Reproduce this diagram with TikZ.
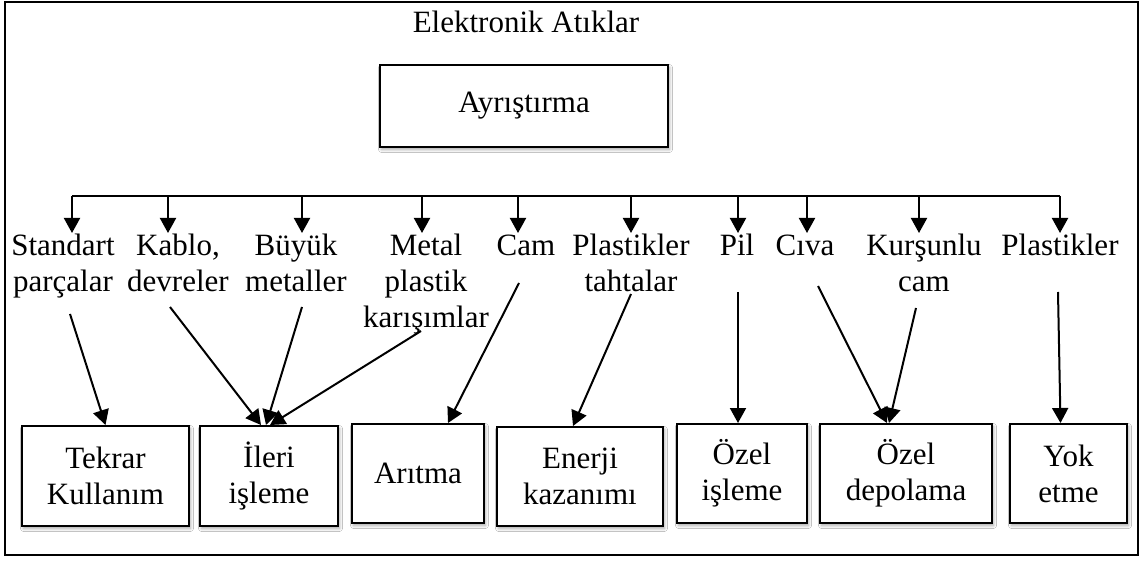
\documentclass[tikz,border=0pt]{standalone}
\usepackage{fontspec}
\setmainfont{Liberation Serif}
\usetikzlibrary{arrows.meta,calc,shadows.blur}

% stacked lines whose baseline is that of the first line
\newcommand{\stacklines}[1]{\begin{tabular}[t]{@{}c@{}}#1\end{tabular}}

\begin{document}
\begin{tikzpicture}[x=1pt,y=-1pt,
  every node/.style={font=\fontsize{31}{36}\selectfont, inner sep=0pt},
  lbl/.style={anchor=base},
  box/.style={draw, line width=2pt, fill=white, align=center,
    blur shadow={shadow xshift=1.5pt, shadow yshift=-2.5pt,
                 shadow blur radius=3pt, shadow opacity=35}},
  arr/.style={line width=2pt, -{Triangle[length=15pt,width=16pt]}},
  line/.style={line width=2pt}]

% page and outer frame
\useasboundingbox (0,0) rectangle (1141,561);
\fill[white] (0,0) rectangle (1141,561);
\draw[line] (5,2) rectangle (1138,555);

% title and sorting step
\node[anchor=base] (title) at (526,33) {Elektronik Atıklar};
\node[box, minimum width=288pt, minimum height=82pt] (ayr) at (524,106) {Ayrıştırma};

% component categories
\node[lbl] (l1)  at (63,256)   {\stacklines{Standart\\parçalar}};
\node[lbl] (l2)  at (178,256)  {\stacklines{Kablo,\\devreler}};
\node[lbl] (l3)  at (296,256)  {\stacklines{Büyük\\metaller}};
\node[lbl] (l4)  at (426,256)  {\stacklines{Metal\\plastik\\karışımlar}};
\node[lbl] (l5)  at (526,256)  {Cam};
\node[lbl] (l6)  at (631,256)  {\stacklines{Plastikler\\tahtalar}};
\node[lbl] (l7)  at (737,256)  {Pil};
\node[lbl] (l8)  at (805,256)  {Cıva};
\node[lbl] (l9)  at (924,256)  {\stacklines{Kurşunlu\\cam}};
\node[lbl] (l10) at (1060,256) {Plastikler};

% distribution bus with drops
\coordinate (bL) at (72,196);
\coordinate (bR) at (1060,196);
\draw[line] (bL) -- (bR);
\foreach \x [count=\i] in {72,168,302,422,518,631,738,807,919,1060} {
  \coordinate (d\i) at (\x,196);
  \coordinate (t\i) at (\x,233);
  \draw[arr] (d\i) -- (t\i);
}

% treatment methods
\node[box, minimum width=167pt, minimum height=100pt] (tek)    at (105.5,476) {Tekrar\\Kullanım};
\node[box, minimum width=138pt, minimum height=100pt] (ileri)  at (269,476)   {İleri\\işleme};
\node[box, minimum width=132pt, minimum height=99pt]  (arit)   at (418,473.5) {Arıtma};
\node[box, minimum width=166pt, minimum height=99pt]  (enerji) at (580,476.5) {Enerji\\kazanımı};
\node[box, minimum width=130pt, minimum height=99pt]  (ozisl)  at (742,473.5) {Özel\\işleme};
\node[box, minimum width=172pt, minimum height=99pt]  (ozdep)  at (906,473.5) {Özel\\depolama};
\node[box, minimum width=117pt, minimum height=99pt]  (yok)    at (1068.5,473.5) {Yok\\etme};

% arrows from categories to methods
\coordinate (s1)  at (70,314);
\coordinate (s2)  at (170,307);
\coordinate (s3)  at (302,307);
\coordinate (s4)  at (421,331);
\coordinate (s5)  at (519,283);
\coordinate (s6)  at (631,294);
\coordinate (s7)  at (738,292);
\coordinate (s8)  at (818,286);
\coordinate (s9)  at (916,308);
\coordinate (s10) at (1058,292);

\draw[arr] (s1)  -- (tek.north);
\draw[arr] (s2)  -- ($(ileri.north)+(-8,0)$);
\draw[arr] (s3)  -- ($(ileri.north)+(-3,0)$);
\draw[arr] (s4)  -- ($(ileri.north)+(1,0)$);
\draw[arr] (s5)  -- ($(arit.north)+(30,0)$);
\draw[arr] (s6)  -- ($(enerji.north)+(-7,0)$);
\draw[arr] (s7)  -- ($(ozisl.north)+(-4,0)$);
\draw[arr] (s8)  -- ($(ozdep.north)+(-19,0)$);
\draw[arr] (s9)  -- ($(ozdep.north)+(-17,0)$);
\draw[arr] (s10) -- ($(yok.north)+(-8,0)$);
\end{tikzpicture}
\end{document}
